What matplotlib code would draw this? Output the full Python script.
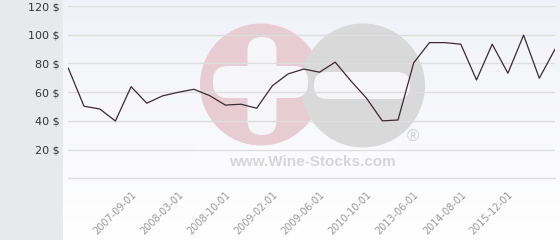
import numpy as np
import matplotlib
matplotlib.use("Agg")
import matplotlib.pyplot as plt
from matplotlib.patches import Circle, FancyBboxPatch, Rectangle
from matplotlib.transforms import ScaledTranslation

# price history (USD), one value per quote
prices = [76.7, 50.2, 48.3, 39.9, 63.8, 52.3, 57.4, 59.9, 62.0, 57.6, 51.0,
          51.6, 48.8, 64.5, 72.7, 76.1, 73.9, 80.9, 67.8, 55.7, 40.0, 40.6,
          80.4, 94.5, 94.5, 93.4, 68.5, 93.4, 73.2, 99.7, 69.7, 89.9]
tick_idx = [4, 7, 10, 13, 16, 19, 22, 25, 28]
tick_labels = ['2007-09-01', '2008-03-01', '2008-10-01', '2009-02-01',
               '2009-06-01', '2010-10-01', '2013-06-01', '2014-08-01',
               '2015-12-01']
y_ticks = [0, 20, 40, 60, 80, 100, 120]

W, H = 560, 240
fig = plt.figure(figsize=(W / 100, H / 100), dpi=100)
fig.patch.set_facecolor('white')

# grey strip on the left
fig.patches.append(Rectangle((0, 0), 63 / W, 1, transform=fig.transFigure,
                             facecolor='#e6eaed', edgecolor='none', zorder=0))

# plot background gradient
bg = fig.add_axes([63 / W, 0, 1 - 63 / W, 1], zorder=0)
grad = np.linspace(0, 1, 256).reshape(-1, 1)
top = np.array([0.945, 0.949, 0.972])
bot = np.array([1.0, 1.0, 1.0])
img = top + (bot - top) * grad[:, :, None] * np.ones((1, 1, 3))
bg.imshow(img, aspect='auto', extent=[0, 1, 0, 1], origin='upper')
bg.axis('off')

# watermark, pixel coordinates
wm = fig.add_axes([0, 0, 1, 1], zorder=1)
wm.set_xlim(0, W)
wm.set_ylim(H, 0)
wm.axis('off')
wm.patch.set_alpha(0)
wm.add_patch(Rectangle((197, 146), 200, 28, facecolor='#fbfbfd', edgecolor='none'))
wm.add_patch(Circle((261, 84.5), 61, facecolor='#e7ccd4', edgecolor='none'))
wm.add_patch(Circle((363, 85.5), 62, facecolor='#d9d9d9', edgecolor='none'))
wm.add_patch(FancyBboxPatch((247.5, 37), 29, 98, boxstyle='round,pad=0,rounding_size=14',
                            facecolor='#f6f6f9', edgecolor='none'))
wm.add_patch(FancyBboxPatch((213, 66), 95, 32, boxstyle='round,pad=0,rounding_size=15',
                            facecolor='#f6f6f9', edgecolor='none'))
wm.add_patch(FancyBboxPatch((314, 72), 96, 27, boxstyle='round,pad=0,rounding_size=13',
                            facecolor='#f6f6f9', edgecolor='none'))
wm.text(413, 137, '\u00ae', fontsize=12, color='#cfcfcf', ha='center', va='center',
        family='Liberation Sans')
wm.text(312, 161.5, 'www.Wine-Stocks.com', fontsize=11, color='#d6d6d6',
        fontweight='bold', ha='center', va='center', family='Liberation Sans')

# main chart
ax = fig.add_axes([68.3 / W, 61.7 / H, (555 - 68.3) / W, 172.3 / H], zorder=2)
ax.patch.set_alpha(0)
x = np.arange(len(prices))
ax.plot(x, prices, color='#3a2a33', lw=0.9)
ax.set_xlim(0, len(prices) - 1)
ax.set_ylim(0, 120)
for s in ax.spines.values():
    s.set_visible(False)
ax.set_yticks(y_ticks)
ax.set_yticklabels(['' if v == 0 else f'{v} $' for v in y_ticks])
ax.yaxis.grid(True, color='#dedede', lw=1)
ax.axhline(0, color='#dedede', lw=1, clip_on=False, zorder=0)
ax.set_axisbelow(True)
ax.tick_params(axis='y', length=0, pad=6, labelsize=8, labelcolor='#333333')
ax.set_xticks(tick_idx)
ax.set_xticklabels(tick_labels, rotation=45, ha='right', rotation_mode='anchor')
ax.tick_params(axis='x', length=0, pad=8, labelsize=7, labelcolor='#999999')
off = ScaledTranslation(0, 0, fig.dpi_scale_trans)
for lbl in ax.get_xticklabels():
    lbl.set_transform(lbl.get_transform() + off)

fig.savefig('out.png', dpi=100)
